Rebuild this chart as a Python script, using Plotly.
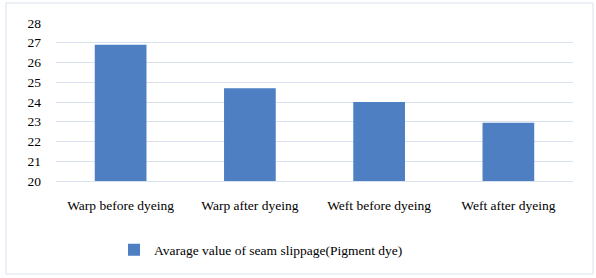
import plotly.graph_objects as go

categories = ["Warp before dyeing", "Warp after dyeing", "Weft before dyeing", "Weft after dyeing"]
values = [26.9, 24.7, 24.0, 22.95]
series_name = "Avarage value of seam slippage(Pigment dye)"
y_ticks = [20, 21, 22, 23, 24, 25, 26, 27, 28]

font_family = "Times New Roman"
fs = 13.5

fig = go.Figure()
fig.add_trace(go.Bar(
    x=categories, y=values, name=series_name,
    marker=dict(color="#4d7fc2", line=dict(width=0)),
    showlegend=True,
))

L, R, T, B = 56, 23, 23, 97
W, H = 596, 278
pw, ph = W - L - R, H - T - B

def px(x):
    return (x - L) / pw

def py(y):
    return (H - B - y) / ph

fig.update_layout(
    width=W, height=H,
    margin=dict(l=L, r=R, t=T, b=B, autoexpand=False),
    paper_bgcolor="white", plot_bgcolor="white",
    font=dict(family=font_family, size=fs, color="#000000"),
    bargap=0.6,
    showlegend=True,
    legend=dict(x=px(114), y=py(250), xanchor="left", yanchor="middle",
                orientation="h", font=dict(size=fs, family=font_family),
                itemwidth=30, bgcolor="rgba(0,0,0,0)"),
    xaxis=dict(showgrid=False, showline=True, linecolor="#d9e1ee", linewidth=1,
               ticks="", tickfont=dict(size=fs, family=font_family), ticklabelstandoff=12, automargin=False),
    yaxis=dict(range=[20, 28], tickvals=y_ticks, showgrid=True, gridcolor="#d9e1ee",
               gridwidth=1, zeroline=False, showline=False, ticks="",
               tickfont=dict(size=fs, family=font_family), ticklabelstandoff=14, automargin=False),
    shapes=[dict(type="rect", xref="paper", yref="paper",
                 x0=px(6), x1=px(593), y0=py(274), y1=py(3),
                 line=dict(color="#d9e1ee", width=1), fillcolor="rgba(0,0,0,0)",
                 layer="below")],
)

fig.write_html("out.html", config={"displayModeBar": False},
               post_script="document.body.style.margin='0px';")
